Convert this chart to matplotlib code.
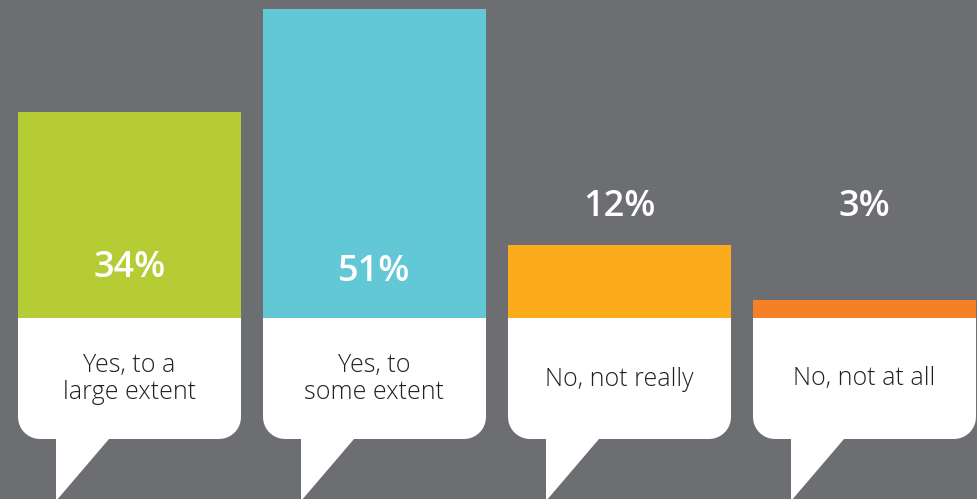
import numpy as np
import matplotlib.pyplot as plt
from matplotlib.patches import PathPatch
from matplotlib.path import Path

categories = ["Yes, to a\nlarge extent", "Yes, to\nsome extent", "No, not really", "No, not at all"]
values = [34, 51, 12, 3]
value_labels = ["34%", "51%", "12%", "3%"]
colors = ["#b5cc34", "#62c8d6", "#fbab1c", "#f58025"]

bg = "#6d6e72"
plt.rcParams['font.family'] = ['Open Sans', 'DejaVu Sans']

fig = plt.figure(figsize=(9.78, 4.99), dpi=100, facecolor=bg)
ax = fig.add_axes([0, 0, 1, 1])
ax.set_facecolor(bg)

# pixel scale: 245 px per category, ~6.06 px per percentage point
px_x = 1 / 245
px_y = 1 / 6.06
ax.set_xlim(-129.5 * px_x, (978 - 129.5) * px_x)
ax.set_ylim(-(499 - 318) * px_y, 318 * px_y)
ax.axis('off')

x = np.arange(len(values))
width = 223 * px_x
ax.bar(x, values, width=width, color=colors, linewidth=0, zorder=2)


def bubble(cx):
    left = cx - width / 2
    right = cx + width / 2
    bottom = -121 * px_y
    rx, ry = 22 * px_x, 22 * px_y
    t = np.linspace(0, np.pi / 2, 12)
    pts = [(left, 0), (right, 0), (right, bottom + ry)]
    # bottom-right corner
    pts += [(right - rx + rx * np.cos(a), bottom + ry - ry * np.sin(a)) for a in t]
    # tail
    pts += [(left + 91 * px_x, bottom), (left + 38 * px_x, bottom - 62 * px_y),
            (left + 38 * px_x, bottom)]
    # bottom-left corner
    pts += [(left + rx - rx * np.sin(a), bottom + ry - ry * np.cos(a)) for a in t]
    pts += [(left, 0)]
    return PathPatch(Path(pts, closed=True), facecolor="white", edgecolor="none", zorder=1)


for i, (cat, v, lab) in enumerate(zip(categories, values, value_labels)):
    ax.add_patch(bubble(x[i]))
    ax.text(x[i], -61 * px_y, cat, ha='center', va='center', fontsize=18,
            fontweight='light', color="#231f20", linespacing=1.15, zorder=3)
    if v > 20:
        ypix = 268 if i == 0 else 272
    else:
        ypix = 207
    ax.text(x[i], (318 - ypix) * px_y, lab, ha='center', va='center',
            fontsize=26, fontweight='semibold', color="white", zorder=3)

fig.savefig("out.png", dpi=100, facecolor=bg)
